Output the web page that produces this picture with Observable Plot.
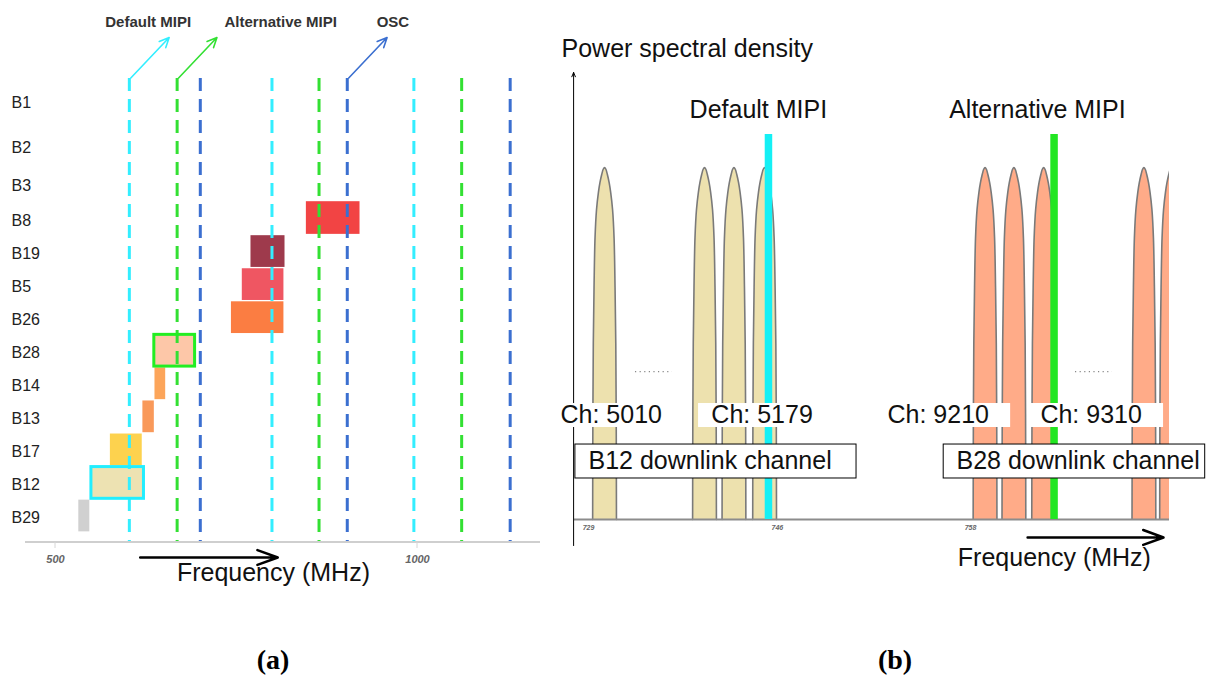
<!DOCTYPE html>
<html><head><meta charset="utf-8">
<script src="https://cdn.jsdelivr.net/npm/d3@7"></script>
<script src="https://cdn.jsdelivr.net/npm/@observablehq/plot@0.6"></script>
<style>
body{margin:0;background:#fff;}
#wrap{position:relative;width:1212px;height:675px;overflow:hidden;background:#fff;}
.panel{position:absolute;top:0;}
.tag{position:absolute;top:644px;width:70px;text-align:center;font:bold 28px "Liberation Serif","Times New Roman",serif;color:#000;}
</style></head>
<body><div id="wrap">
<div id="pa" class="panel" style="left:0;width:548px"></div>
<div id="pb" class="panel" style="left:550px;width:662px"></div>
<div class="tag" style="left:238px">(a)</div>
<div class="tag" style="left:860px">(b)</div>
</div>
<script>
// ---------------- Panel (a) data ----------------
const bands = ["B1","B2","B3","B8","B19","B5","B26","B28","B14","B13","B17","B12","B29"];
const bandStartMHz = [null,null,null,846.5,770,758,743,636.5,637.4,620.7,575.8,549.6,532.2];
const bandEndMHz   = [null,null,null,920.6,817,815.5,815.5,692.8,652.2,636.5,619.8,622.2,547.4];
const bandFill     = [null,null,null,"#f24444","#9e3a4c","#ef5662","#fb7d42","#fdc7a8","#fca55a","#f9995a","#fdd24e","#ede2b2","#d0d0d0"];
const bandOutline  = [null,null,null,null,null,null,null,"#22ee22",null,null,null,"#22eeff",null];

const spurNames  = ["Default MIPI","Alternative MIPI","OSC"];
const spurColors = ["#33eeff","#33e033","#3b6fd0"];
const defaultMipiMHz = [602, 799, 995];
const altMipiMHz     = [668, 864, 1061];
const oscMHz         = [700, 903, 1128];
const spurLabelMHz   = [628, 811, 966];
const spurArrowFromMHz = [602, 668, 903];
const axisTicksMHz   = [500, 1000];

// ---------------- Panel (b) data (schematic channel-slot positions) ----------------
const b12PeakSlots = [1.01, 4.37, 5.36, 6.39];
const b28PeakSlots = [13.8, 14.77, 15.77, 19.14, 20.07];
const peakLevel = 1;
const mipiNamesB  = ["Default MIPI","Alternative MIPI"];
const mipiSlotsB  = [6.52, 16.12];
const mipiColorsB = ["#14f0f5","#22e622"];
const mipiLevelB  = 1.094;
const mipiLabelSlots = [6.18, 15.56];
const channelNames   = ["Ch: 5010","Ch: 5179","Ch: 9210","Ch: 9310"];
const channelTextSlot = [-0.47, 4.6, 10.52, 15.66];
const channelBgFrom   = [-0.47, 4.17, 10.1, 15.26];
const channelBgTo     = [2.96, 8.1, 14.66, 19.8];
const downlinkNames    = ["B12 downlink channel","B28 downlink channel"];
const downlinkBoxFrom  = [0.03, 12.41];
const downlinkBoxTo    = [9.48, 21.2];
const downlinkTextSlot = [0.47, 12.84];
const freqTickLabels = ["729","746","758"];
const freqTickSlots  = [0.47, 6.82, 13.31];
const ellipsisFrom = [2.05, 16.84];
const ellipsisTo   = [3.29, 18.08];

// peak glyph template (outline of one channel's spectrum, left half; mirrored)
const halfDx = [0.40, 0.392, 0.378, 0.353, 0.32, 0.27, 0.205, 0.155, 0.095, 0.045, 0];
const halfH  = [0, 0.3, 0.5, 0.66, 0.8, 0.88, 0.93, 0.957, 0.98, 0.995, 1];
const shapeDx = [...halfDx.map(d => -d), ...halfDx.slice(0, -1).reverse()];
const shapeH  = [...halfH, ...halfH.slice(0, -1).reverse()];

const FONT = "Liberation Sans, Arial, Helvetica, sans-serif";

// ---------- build panel (a) ----------
const rows = bands.map((_, i) => i);
const bars = rows.filter(i => bandStartMHz[i] != null).map(i => ({
  band: bands[i], row: i, x1: bandStartMHz[i], x2: bandEndMHz[i], fill: bandFill[i], outline: bandOutline[i]
}));
const spurMHz = [defaultMipiMHz, altMipiMHz, oscMHz];
const spurs = spurNames.flatMap((n, k) => spurMHz[k].map(f => ({name: n, f, color: spurColors[k]})));

const axisA = (index, scales, values, dims) => {
  const g = d3.create("svg:g");
  const yb = dims.height - dims.marginBottom;
  g.append("line").attr("x1", dims.marginLeft).attr("x2", dims.width - dims.marginRight)
    .attr("y1", yb).attr("y2", yb).attr("stroke", "#cfcfcf").attr("stroke-width", 2);
  axisTicksMHz.forEach(t => g.append("line").attr("x1", scales.x(t)).attr("x2", scales.x(t))
    .attr("y1", yb).attr("y2", yb + 6).attr("stroke", "#d6d6d6").attr("stroke-width", 1));
  return g.node();
};

const plotA = Plot.plot({
  width: 548, height: 600,
  marginLeft: 25, marginRight: 8, marginTop: 78, marginBottom: 58,
  x: {type: "linear", domain: [500, 1000], range: [55, 417], axis: null},
  y: {type: "linear", domain: [0, 1, 2, 3, 12], range: [100, 145, 183, 218, 515.5], axis: null},
  color: {type: "identity"},
  style: {background: "white", overflow: "visible", fontFamily: FONT},
  marks: [
    Plot.rect(bars, {x1: "x1", x2: "x2", y1: d => d.row - 0.48, y2: d => d.row + 0.48, fill: "fill"}),
    Plot.ruleX(spurs, {x: "f", stroke: "color", strokeWidth: 3, strokeDasharray: "13,8"}),
    Plot.rect(bars.filter(d => d.outline), {x1: "x1", x2: "x2", y1: d => d.row - 0.48, y2: d => d.row + 0.48,
      fill: "none", stroke: "outline", strokeWidth: 3}),
    axisA,
    Plot.text(rows, {y: d => d, text: d => bands[d], frameAnchor: "left", textAnchor: "start", dx: -14, dy: 2,
      fontSize: 16, fill: "#222", fontFamily: FONT}),
    Plot.text(axisTicksMHz, {x: d => d, text: d => String(d), frameAnchor: "bottom", dy: 20,
      fontSize: 11, fontWeight: "bold", fontStyle: "italic", fill: "#666", fontFamily: FONT}),
    Plot.arrow(spurNames, {x1: (d, k) => spurArrowFromMHz[k] + 2, y1: -0.5, x2: (d, k) => spurArrowFromMHz[k] + 55, y2: -1.4,
      stroke: (d, k) => spurColors[k], strokeWidth: 1.6, headLength: 10, headAngle: 50}),
    Plot.text(spurNames, {x: (d, k) => spurLabelMHz[k], y: -1.73, text: d => d, fontWeight: "bold",
      fontSize: 15, fill: "#333", fontFamily: FONT}),
    Plot.arrow(["freq"], {x1: 617, x2: 807, y1: 13.255, y2: 13.255, stroke: "#000", strokeWidth: 2.5,
      headLength: 13, headAngle: 40}),
    Plot.text(["Frequency (MHz)"], {x: 801, frameAnchor: "bottom", dy: 38, text: d => d, fontSize: 25,
      fill: "#111", fontFamily: FONT})
  ]
});
document.getElementById("pa").appendChild(plotA);

// ---------- build panel (b) ----------
function peakOutline(slots, band) {
  return slots.flatMap((c, j) => shapeDx.map((dx, m) => ({id: band + j, x: c + dx, y: peakLevel * shapeH[m]})));
}
const peaksB12 = peakOutline(b12PeakSlots, "B12");
const peaksB28 = peakOutline(b28PeakSlots, "B28");

const plotB = Plot.plot({
  width: 662, height: 600,
  marginLeft: 24, marginRight: 43, marginTop: 60, marginBottom: 81,
  x: {type: "linear", domain: [0, 20], range: [24, 619], axis: null},
  y: {type: "linear", domain: [0, 1], range: [519, 167], axis: null},
  color: {type: "identity"},
  style: {background: "white", overflow: "visible", fontFamily: FONT},
  marks: [
    Plot.line(peaksB12, {x: "x", y: "y", z: "id", fill: "#ede1ae", stroke: "#7a7a7a", strokeWidth: 1.6, curve: "catmull-rom"}),
    Plot.line(peaksB28, {x: "x", y: "y", z: "id", fill: "#ffab88", stroke: "#7a7a7a", strokeWidth: 1.6, curve: "catmull-rom", clip: true}),
    Plot.ruleY([0], {stroke: "#8c8c8c", strokeWidth: 2}),
    Plot.ruleX(mipiSlotsB, {x: d => d, y1: 0, y2: mipiLevelB, stroke: (d, i) => mipiColorsB[i], strokeWidth: 7.5}),
    Plot.ruleY(ellipsisFrom, {y: 0.42, x1: d => d, x2: (d, i) => ellipsisTo[i], stroke: "#888", strokeWidth: 1.3, strokeDasharray: "1.2,3.4"}),
    Plot.arrow(["psd"], {x1: -0.03, x2: -0.03, y1: -0.074, y2: 1.27, stroke: "#000", strokeWidth: 1, headLength: 7, headAngle: 45}),
    Plot.rect(channelNames, {x1: (d, i) => channelBgFrom[i], x2: (d, i) => channelBgTo[i], y1: 0.2614, y2: 0.3295, fill: "white"}),
    Plot.text(channelNames, {x: (d, i) => channelTextSlot[i], y: 0.298, text: d => d, textAnchor: "start",
      fontSize: 25, fill: "#111", fontFamily: FONT}),
    Plot.rect(downlinkNames, {x1: (d, i) => downlinkBoxFrom[i], x2: (d, i) => downlinkBoxTo[i], y1: 0.1165, y2: 0.213,
      fill: "white", stroke: "#000", strokeWidth: 1}),
    Plot.text(downlinkNames, {x: (d, i) => downlinkTextSlot[i], y: 0.165, text: d => d, textAnchor: "start",
      fontSize: 25, fill: "#111", fontFamily: FONT}),
    Plot.text(freqTickLabels, {x: (d, i) => freqTickSlots[i], y: -0.023, text: d => d, fontSize: 7,
      fontWeight: "bold", fontStyle: "italic", fill: "#666", fontFamily: FONT}),
    Plot.arrow(["freq"], {x1: 15.23, x2: 19.8, y1: -0.051, y2: -0.051, stroke: "#000", strokeWidth: 2.5, headLength: 13, headAngle: 40}),
    Plot.text(["Frequency (MHz)"], {x: 16.13, y: -0.108, text: d => d, fontSize: 25, fill: "#111", fontFamily: FONT}),
    Plot.text(["Power spectral density"], {x: -0.437, y: 1.338, text: d => d, textAnchor: "start", fontSize: 25,
      fill: "#111", fontFamily: FONT}),
    Plot.text(mipiNamesB, {x: (d, i) => mipiLabelSlots[i], y: 1.162, text: d => d, fontSize: 25, fill: "#111", fontFamily: FONT})
  ]
});
document.getElementById("pb").appendChild(plotB);
</script></body></html>
